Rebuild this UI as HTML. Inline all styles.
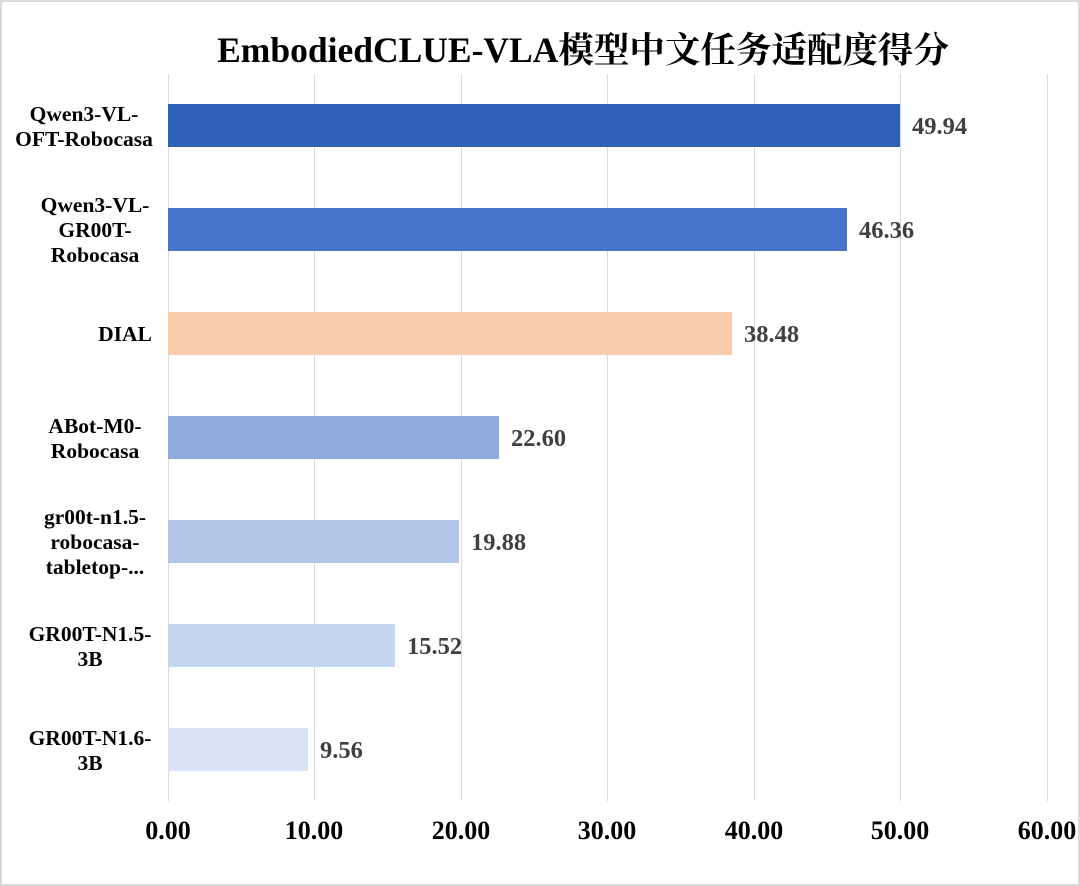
<!DOCTYPE html>
<html><head><meta charset="utf-8"><style>
body{margin:0;width:1080px;height:886px;background:#fff;overflow:hidden}
#f{position:absolute;left:0;top:0;width:1076px;height:882px;border:2px solid #d9d9d9}
.t{position:absolute;font-family:"Liberation Serif","Noto Serif CJK SC",serif;font-weight:bold;color:#000}
.g{position:absolute;top:74px;height:727px;width:1px;background:#d9d9d9}
.b{position:absolute;left:168px;height:43px}
.v{position:absolute;font-family:"Liberation Serif",serif;font-weight:bold;font-size:24.5px;color:#404040;line-height:43px}
.c{position:absolute;left:0;width:180px;text-align:center;font-family:"Liberation Serif",serif;font-weight:bold;font-size:21.5px;line-height:25px;color:#000}
.x{position:absolute;top:816px;width:120px;margin-left:-60px;text-align:center;font-family:"Liberation Serif",serif;font-weight:bold;font-size:26px;color:#000}
</style></head><body><div id="f"></div>
<div class="t" style="left:0;width:1166px;top:22px;text-align:center;font-size:35.5px">EmbodiedCLUE-VLA模型中文任务适配度得分</div>
<div class="g" style="left:168px"></div><div class="g" style="left:314px"></div><div class="g" style="left:461px"></div><div class="g" style="left:607px"></div><div class="g" style="left:754px"></div><div class="g" style="left:900px"></div><div class="g" style="left:1047px"></div>
<div class="b" style="top:104px;width:732px;background:#2e62b8"></div><div class="v" style="top:105px;left:912px">49.94</div>
<div class="b" style="top:208px;width:679px;background:#4775cb"></div><div class="v" style="top:209px;left:859px">46.36</div>
<div class="b" style="top:312px;width:564px;background:#f8cbad"></div><div class="v" style="top:313px;left:744px">38.48</div>
<div class="b" style="top:416px;width:331px;background:#8eaadf"></div><div class="v" style="top:417px;left:511px">22.60</div>
<div class="b" style="top:520px;width:291px;background:#b4c6e9"></div><div class="v" style="top:521px;left:471px">19.88</div>
<div class="b" style="top:624px;width:227px;background:#c6d5ef"></div><div class="v" style="top:625px;left:407px">15.52</div>
<div class="b" style="top:728px;width:140px;background:#dae3f3"></div><div class="v" style="top:729px;left:320px">9.56</div>
<div class="c" style="top:102px;left:-6px">Qwen3-VL-<br>OFT-Robocasa</div>
<div class="c" style="top:193px;left:5px">Qwen3-VL-<br>GR00T-<br>Robocasa</div>
<div class="c" style="top:322px;left:35px">DIAL</div>
<div class="c" style="top:414px;left:5px">ABot-M0-<br>Robocasa</div>
<div class="c" style="top:505px;left:5px">gr00t-n1.5-<br>robocasa-<br>tabletop-...</div>
<div class="c" style="top:622px">GR00T-N1.5-<br>3B</div>
<div class="c" style="top:726px">GR00T-N1.6-<br>3B</div>
<div class="x" style="left:168px">0.00</div><div class="x" style="left:314px">10.00</div><div class="x" style="left:461px">20.00</div><div class="x" style="left:607px">30.00</div><div class="x" style="left:754px">40.00</div><div class="x" style="left:900px">50.00</div><div class="x" style="left:1047px">60.00</div>
</body></html>
